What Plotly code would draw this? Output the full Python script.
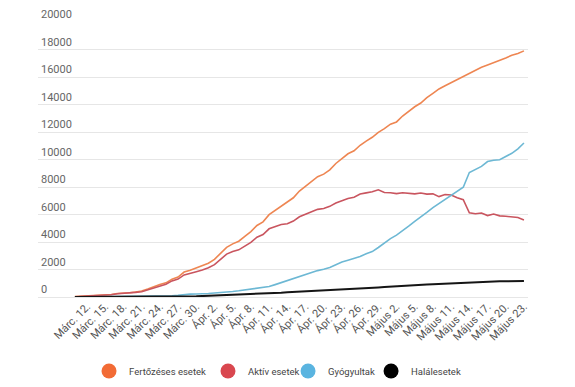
import pandas as pd
import plotly.graph_objects as go

dates = pd.date_range("2020-03-10", "2020-05-23", freq="D")

fertozeses = [25, 49, 89, 123, 131, 139, 184, 260, 277, 308, 367, 433, 576, 762, 906, 1029,
              1292, 1452, 1815, 1952, 2109, 2245,
              2460, 2738, 3183, 3613, 3864, 4057, 4417, 4761, 5202, 5467, 5990, 6300, 6633, 6879,
              7216, 7707, 8067, 8418, 8746, 8936, 9242, 9710, 10096, 10417, 10635, 11036, 11339,
              11616, 11978, 12240,
              12567, 12732, 13163, 13512, 13837, 14107, 14499, 14811, 15131, 15362, 15588, 15778,
              16002, 16247, 16437, 16704, 16871, 17036, 17191, 17387, 17585, 17712, 17900]

aktiv = [22, 43, 80, 114, 122, 130, 168, 241, 258, 283, 336, 381, 510, 681, 816, 926,
         1172, 1300, 1603, 1700, 1837, 1956,
         2122, 2354, 2740, 3117, 3313, 3431, 3700, 3966, 4353, 4539, 4960, 5109, 5268, 5328,
         5524, 5835, 6036, 6197, 6375, 6438, 6594, 6836, 7001, 7170, 7260, 7485, 7570,
         7653, 7800, 7600,
         7580, 7520, 7580, 7560, 7500, 7560, 7480, 7500, 7300, 7450, 7420, 7220,
         7080, 6120, 6060, 6110, 5920, 6030, 5900, 5870, 5850, 5780, 5600]

gyogyultak = [3, 6, 9, 9, 9, 9, 16, 19, 19, 25, 31, 52, 64, 73, 79, 86,
              94, 115, 169, 206, 220, 220,
              252, 290, 310, 350, 400, 450, 520, 580, 620, 680, 760, 900, 1050, 1200,
              1320, 1480, 1620, 1800, 1920, 2020, 2150, 2350, 2550, 2680, 2800, 2950, 3150,
              3300, 3600, 3950,
              4250, 4500, 4800, 5150, 5500, 5800, 6150, 6500, 6800, 7100, 7350, 7650,
              7980, 9050, 9300, 9500, 9850, 9950, 9980, 10200, 10450, 10780, 11200]

halalesetek = [0, 0, 0, 0, 0, 0, 0, 0, 0, 0, 0, 0, 2, 8, 11, 17,
               26, 37, 43, 46, 52, 69,
               86, 94, 133, 146, 151, 176, 197, 215, 229, 248, 270, 291, 315, 351,
               372, 392, 411, 421, 451, 478, 498, 524, 545, 567, 575, 601, 619,
               663, 693, 725,
               744, 765, 786, 812, 842, 872, 909, 935, 958, 979, 1002, 1016,
               1046, 1062, 1081, 1097, 1107, 1121, 1137, 1146, 1156, 1160, 1165]

tick_dates = pd.date_range("2020-03-12", "2020-05-23", freq="3D")
tick_labels = ["Márc. 12.", "Márc. 15.", "Márc. 18.", "Márc. 21.", "Márc. 24.", "Márc. 27.",
               "Márc. 30.", "Ápr. 2.", "Ápr. 5.", "Ápr. 8.", "Ápr. 11.", "Ápr. 14.", "Ápr. 17.",
               "Ápr. 20.", "Ápr. 23.", "Ápr. 26.", "Ápr. 29.", "Május 2.", "Május 5.",
               "Május 8.", "Május 11.", "Május 14.", "Május 17.", "Május 20.", "Május 23."]

y_ticks = [0, 2000, 4000, 6000, 8000, 10000, 12000, 14000, 16000, 18000, 20000]
y_labels = ["0", "2000", "4000", "6000", "8000", "10000", "12000", "14000", "16000", "18000", "20000"]

series = [
    ("Fertőzéses esetek", fertozeses, "#ee8652", "#f26b35", 1.6),
    ("Aktív esetek", aktiv, "#c9555f", "#d9474f", 1.6),
    ("Gyógyultak", gyogyultak, "#6db8d4", "#5ab4e0", 1.6),
    ("Halálesetek", halalesetek, "#151515", "#000000", 2.0),
]
legend_ids = ["legend", "legend2", "legend3", "legend4"]
legend_x = [0.1429, 0.3527, 0.4939, 0.6403]

fig = go.Figure()
for name, vals, lc, mc, w in series:
    fig.add_trace(go.Scatter(x=dates, y=vals, mode="lines", name=name,
                             line=dict(color=lc, width=w), showlegend=False))
for (name, vals, lc, mc, w), lid in zip(series, legend_ids):
    fig.add_trace(go.Scatter(x=[None], y=[None], mode="markers", name=name, legend=lid,
                             marker=dict(color=mc, size=15, symbol="circle")))

legend_common = dict(orientation="h", xref="container", yref="container",
                     yanchor="middle", y=0.0422, xanchor="left",
                     font=dict(size=9.5, color="#444"), itemwidth=30,
                     bgcolor="rgba(0,0,0,0)")
layout_legends = {}
for lid, lx in zip(legend_ids, legend_x):
    layout_legends[lid] = dict(legend_common, x=lx)

fig.update_layout(
    width=567, height=379,
    margin=dict(l=30, r=47, t=14, b=90, autoexpand=False),
    paper_bgcolor="white", plot_bgcolor="white",
    font=dict(family="Roboto, sans-serif", color="#555"),
    xaxis=dict(
        range=["2020-03-03 22:00", "2020-05-23 16:00"],
        tickvals=list(tick_dates), ticktext=tick_labels,
        tickangle=-45, tickfont=dict(size=11, color="#555"),
        showgrid=False, showline=False, zeroline=False, ticks="",
        automargin=False,
    ),
    yaxis=dict(
        range=[0, 20000], tickvals=y_ticks, ticktext=y_labels,
        ticklabelposition="inside top", ticklabeloverflow="allow",
        tickfont=dict(size=11, color="#666"),
        showgrid=True, gridcolor="#e6e6e6", gridwidth=1,
        zeroline=True, zerolinecolor="#e6e6e6", zerolinewidth=1,
        showline=False, ticks="", automargin=False,
    ),
    **layout_legends,
)

fig.write_html("out.html")
